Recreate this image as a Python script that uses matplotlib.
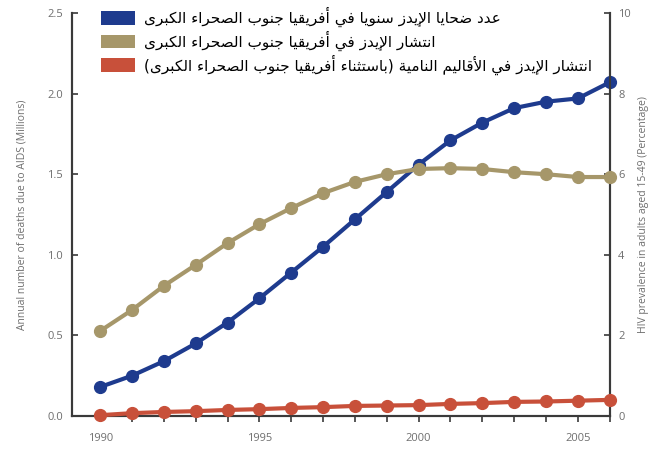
import matplotlib
matplotlib.use("Agg")
import matplotlib.pyplot as plt
from matplotlib.patches import Patch

# ---- data ----
years = list(range(1990, 2007))
deaths_ssa = [0.18, 0.25, 0.34, 0.45, 0.58, 0.73, 0.89, 1.05, 1.22, 1.39,
              1.56, 1.71, 1.82, 1.91, 1.95, 1.97, 2.07]            # millions
prev_ssa = [2.11, 2.63, 3.23, 3.75, 4.29, 4.76, 5.16, 5.53, 5.81, 6.00,
            6.13, 6.15, 6.13, 6.05, 6.00, 5.93, 5.93]               # percent
prev_other = [0.02, 0.07, 0.10, 0.12, 0.15, 0.17, 0.20, 0.22, 0.25, 0.26,
              0.27, 0.30, 0.32, 0.35, 0.36, 0.38, 0.40]             # percent

labels = [
    "عدد ضحايا الإيدز سنويا في أفريقيا جنوب الصحراء الكبرى",
    "انتشار الإيدز في أفريقيا جنوب الصحراء الكبرى",
    "انتشار الإيدز في الأقاليم النامية (باستثناء أفريقيا جنوب الصحراء الكبرى)",
]
colors = ["#1e3b8e", "#a6976a", "#c8503a"]

left_ticks = [0.0, 0.5, 1.0, 1.5, 2.0, 2.5]
right_ticks = [0, 2, 4, 6, 8, 10]
x_labeled = [1990, 1995, 2000, 2005]

# ---- minimal Arabic shaping (matplotlib has no bidi / joining) ----
DUAL = {'ب': 0xFE8F, 'ت': 0xFE95, 'ث': 0xFE99, 'ج': 0xFE9D, 'ح': 0xFEA1,
        'خ': 0xFEA5, 'س': 0xFEB1, 'ش': 0xFEB5, 'ص': 0xFEB9, 'ض': 0xFEBD,
        'ط': 0xFEC1, 'ظ': 0xFEC5, 'ع': 0xFEC9, 'غ': 0xFECD, 'ف': 0xFED1,
        'ق': 0xFED5, 'ك': 0xFED9, 'ل': 0xFEDD, 'م': 0xFEE1, 'ن': 0xFEE5,
        'ه': 0xFEE9, 'ي': 0xFEF1}
RIGHT = {'آ': 0xFE81, 'أ': 0xFE83, 'إ': 0xFE87, 'ا': 0xFE8D, 'ة': 0xFE93,
         'د': 0xFEA9, 'ذ': 0xFEAB, 'ر': 0xFEAD, 'ز': 0xFEAF, 'و': 0xFEED,
         'ى': 0xFEEF}
LAM_ALEF = {'آ': 0xFEF5, 'أ': 0xFEF7, 'إ': 0xFEF9, 'ا': 0xFEFB}


def shape(text):
    units = []
    i = 0
    while i < len(text):
        c = text[i]
        if c == 'ل' and i + 1 < len(text) and text[i + 1] in LAM_ALEF:
            units.append(('LA', text[i + 1]))
            i += 2
        else:
            units.append(('C', c))
            i += 1

    def joins_next(u):
        return u[0] == 'C' and u[1] in DUAL

    def joinable(u):
        return u[0] == 'LA' or u[1] in DUAL or u[1] in RIGHT

    out = []
    for k, u in enumerate(units):
        p = k > 0 and joins_next(units[k - 1])
        if u[0] == 'LA':
            out.append(chr(LAM_ALEF[u[1]] + (1 if p else 0)))
            continue
        c = u[1]
        n = k + 1 < len(units) and joinable(units[k + 1])
        if c in DUAL:
            off = 3 if (p and n) else 1 if p else 2 if n else 0
            out.append(chr(DUAL[c] + off))
        elif c in RIGHT:
            out.append(chr(RIGHT[c] + (1 if p else 0)))
        elif c == 'ء':
            out.append('\ufe80')
        else:
            out.append(c)
    return ''.join(out)[::-1].translate(str.maketrans('()', ')('))


plt.rcParams['font.family'] = ['Open Sans', 'DejaVu Sans']
grey = "#6e6e6e"
spine_c = "#3a3a3a"

fig, ax = plt.subplots(figsize=(6.5, 4.49), dpi=100)
fig.subplots_adjust(left=0.11, right=0.938, top=0.971, bottom=0.0735)
ax2 = ax.twinx()

ax.plot(years, deaths_ssa, color=colors[0], lw=3, marker='o', ms=8.5, clip_on=False, zorder=3)
ax2.plot(years, prev_ssa, color=colors[1], lw=3, marker='o', ms=8.5, clip_on=False, zorder=3)
ax2.plot(years, prev_other, color=colors[2], lw=3, marker='o', ms=8.5, clip_on=False, zorder=4)

ax.set_xlim(1989.1, 2006)
ax.set_ylim(0, 2.5)
ax2.set_ylim(0, 10)

ax.set_xticks(years)
ax.set_xticklabels([str(y) if y in x_labeled else "" for y in years])
ax.set_yticks(left_ticks)
ax.set_yticklabels([f"{v:.1f}" for v in left_ticks])
ax2.set_yticks(right_ticks)

for a in (ax, ax2):
    a.spines['top'].set_visible(False)
    for s in ('left', 'right', 'bottom'):
        a.spines[s].set_color(spine_c)
        a.spines[s].set_linewidth(1.5)
ax.tick_params(axis='x', direction='out', length=4, width=1.2, color=spine_c,
               labelsize=8, labelcolor=grey, pad=8)
ax.tick_params(axis='y', direction='in', length=4, width=1.2, color=spine_c,
               labelsize=8, labelcolor=grey, pad=6)
ax2.tick_params(axis='y', direction='in', length=4, width=1.2, color=spine_c,
                labelsize=8, labelcolor=grey, pad=6)

ax.set_ylabel("Annual number of deaths due to AIDS (Millions)", fontsize=7.5,
              color=grey, labelpad=14)
ax2.set_ylabel("HIV prevalence in adults aged 15-49 (Percentage)", fontsize=7.5,
               color=grey, labelpad=5)

handles = [Patch(facecolor=c, edgecolor='none') for c in colors]
fig.legend(handles, [shape(t) for t in labels], loc='upper left',
           bbox_to_anchor=(0.145, 1.0), frameon=False,
           prop={'family': 'DejaVu Sans', 'size': 11},
           handlelength=2.2, handleheight=1.0, handletextpad=0.6,
           labelspacing=0.22, borderaxespad=0.05)

fig.savefig("out.png", dpi=100)
